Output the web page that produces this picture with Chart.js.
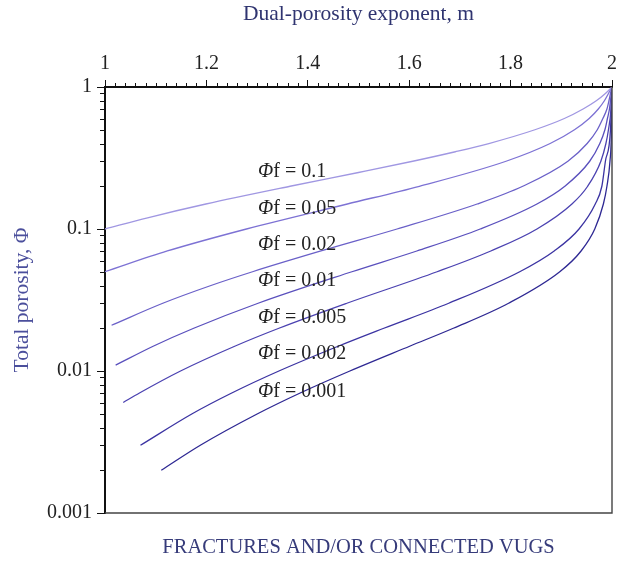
<!DOCTYPE html>
<html>
<head>
<meta charset="utf-8">
<script src="https://cdn.jsdelivr.net/npm/chart.js@4.4.1/dist/chart.umd.min.js"></script>
<style>
  html, body { margin: 0; padding: 0; background: #fff; }
  #wrap { width: 626px; height: 566px; }
</style>
</head>
<body>
<div id="wrap"><canvas id="chart" width="626" height="566"></canvas></div>
<script>
// Dual-porosity chart: total porosity vs exponent m, one curve per fracture porosity

const xTicks = [1, 1.2, 1.4, 1.6, 1.8, 2];
const yTicks = [0.001, 0.01, 0.1, 1];

const fracLabels = ['0.1', '0.05', '0.02', '0.01', '0.005', '0.002', '0.001'];
const labelY = [0.252, 0.138, 0.077, 0.043, 0.0236, 0.0132, 0.0071];

// total porosity (phi) and exponent (m) per curve
const phi_01 = [0.1, 0.12, 0.15, 0.2, 0.25, 0.3, 0.35, 0.4, 0.5, 0.6, 0.7, 0.8, 0.9, 1];
const m_01 = [1, 1.084, 1.199, 1.365, 1.5, 1.607, 1.691, 1.757, 1.848, 1.906, 1.943, 1.969, 1.987, 2];

const phi_005 = [0.05, 0.07, 0.1, 0.15, 0.2, 0.3, 0.4, 0.5, 0.6, 0.7, 0.8, 0.9, 1];
const m_005 = [1, 1.123, 1.279, 1.478, 1.620, 1.791, 1.878, 1.926, 1.955, 1.973, 1.985, 1.993, 2];

const phi_002 = [0.021, 0.03, 0.04, 0.05, 0.07, 0.1, 0.15, 0.2, 0.3, 0.4, 0.5, 0.6, 0.7, 0.8, 0.9, 1];
const m_002 = [1.013, 1.114, 1.209, 1.291, 1.426, 1.576, 1.734, 1.824, 1.913, 1.951, 1.971, 1.982, 1.990, 1.994, 1.997, 2];

const phi_001 = [0.011, 0.015, 0.02, 0.03, 0.05, 0.07, 0.1, 0.15, 0.2, 0.3, 0.4, 0.5, 0.6, 0.7, 0.8, 1];
const m_001 = [1.021, 1.096, 1.175, 1.302, 1.487, 1.615, 1.740, 1.852, 1.907, 1.956, 1.976, 1.986, 1.991, 1.995, 1.997, 2];

const phi_0005 = [0.006, 0.007, 0.01, 0.015, 0.02, 0.03, 0.05, 0.07, 0.1, 0.15, 0.2, 0.3, 0.4, 0.5, 0.7, 1];
const m_0005 = [1.036, 1.068, 1.149, 1.257, 1.343, 1.477, 1.655, 1.761, 1.852, 1.921, 1.952, 1.978, 1.988, 1.993, 1.998, 2];

const phi_0002 = [0.003, 0.005, 0.007, 0.01, 0.015, 0.02, 0.03, 0.05, 0.07, 0.1, 0.15, 0.2, 0.3, 0.5, 1];
const m_0002 = [1.070, 1.172, 1.250, 1.343, 1.461, 1.550, 1.678, 1.818, 1.886, 1.935, 1.967, 1.980, 1.987, 1.997, 2];

const phi_0001 = [0.002, 0.003, 0.005, 0.007, 0.01, 0.015, 0.02, 0.03, 0.05, 0.07, 0.1, 0.15, 0.2, 0.3, 0.5, 1];
const m_0001 = [1.111, 1.188, 1.301, 1.385, 1.483, 1.602, 1.687, 1.796, 1.897, 1.939, 1.966, 1.983, 1.990, 1.996, 1.999, 2];

const curves = [
    [m_01, phi_01], [m_005, phi_005], [m_002, phi_002], [m_001, phi_001],
    [m_0005, phi_0005], [m_0002, phi_0002], [m_0001, phi_0001]
];
const colors = ['#a097e2', '#7d72d4', '#6a60c8', '#5a50bd', '#4b42b1', '#3b33a2', '#2e2893'];

const FONT = "'Liberation Serif', 'DejaVu Serif', serif";

const datasets = curves.map((c, i) => ({
    label: fracLabels[i],
    data: c[0].map((m, j) => ({ x: m, y: c[1][j] })),
    borderColor: colors[i],
    borderWidth: 1.3,
    pointRadius: 0,
    fill: false,
    cubicInterpolationMode: 'monotone'
}));

// minor ticks, frame and text labels
const extras = {
    id: 'extras',
    afterDraw(chart) {
        const { ctx, chartArea: a, scales: { x, y } } = chart;
        ctx.save();
        // frame (right + bottom)
        ctx.strokeStyle = '#444';
        ctx.lineWidth = 1.4;
        ctx.beginPath();
        ctx.moveTo(a.right, a.top);
        ctx.lineTo(a.right, a.bottom);
        ctx.lineTo(a.left, a.bottom);
        ctx.stroke();

        ctx.strokeStyle = '#111';
        ctx.lineWidth = 1;
        ctx.beginPath();
        for (let k = 1; k < 50; k++) {
            if (k % 10 === 0) continue;
            const px = Math.round(x.getPixelForValue(1 + k * 0.02)) + 0.5;
            ctx.moveTo(px, a.top);
            ctx.lineTo(px, a.top - 4);
        }
        for (let d = 0.001; d < 1; d *= 10) {
            for (let k = 2; k <= 9; k++) {
                const py = Math.round(y.getPixelForValue(d * k)) + 0.5;
                ctx.moveTo(a.left, py);
                ctx.lineTo(a.left - 5, py);
            }
        }
        ctx.stroke();

        // curve labels
        ctx.fillStyle = '#222';
        ctx.textBaseline = 'middle';
        ctx.textAlign = 'left';
        const lx = x.getPixelForValue(1.302);
        fracLabels.forEach((t, i) => {
            const ly = y.getPixelForValue(labelY[i]);
            ctx.font = 'italic 20px ' + FONT;
            ctx.fillText('\u03A6', lx, ly);
            const w = ctx.measureText('\u03A6').width;
            ctx.font = '20px ' + FONT;
            ctx.fillText('f = ' + t, lx + w, ly);
        });

        // bottom caption
        ctx.fillStyle = '#363b7a';
        ctx.textAlign = 'center';
        ctx.font = '20.5px ' + FONT;
        ctx.fillText('FRACTURES AND/OR CONNECTED VUGS', (a.left + a.right) / 2, 548);
        ctx.restore();
    }
};

new Chart(document.getElementById('chart'), {
    type: 'line',
    data: { datasets: datasets },
    options: {
        responsive: false,
        animation: false,
        layout: { padding: { left: 0, right: 14, top: 0, bottom: 53 } },
        plugins: {
            legend: { display: false },
            tooltip: { enabled: false }
        },
        scales: {
            x: {
                type: 'linear',
                position: 'top',
                min: 1,
                max: 2,
                afterBuildTicks: s => { s.ticks = xTicks.map(v => ({ value: v })); },
                afterFit: s => { s.height = 87; },
                ticks: {
                    color: '#222',
                    font: { family: FONT, size: 20 },
                    padding: 4,
                    maxRotation: 0,
                    callback: v => String(+v.toFixed(1))
                },
                grid: { drawOnChartArea: false, drawTicks: true, tickLength: 7, tickColor: '#111' },
                border: { display: true, color: '#111', width: 2 },
                title: {
                    display: true,
                    text: 'Dual-porosity exponent, m',
                    color: '#2f3470',
                    font: { family: FONT, size: 21.5 },
                    padding: { top: 1, bottom: 0 }
                }
            },
            y: {
                type: 'logarithmic',
                min: 0.001,
                max: 1,
                afterBuildTicks: s => { s.ticks = yTicks.map(v => ({ value: v })); },
                afterFit: s => { s.width = 105; },
                ticks: {
                    color: '#222',
                    font: { family: FONT, size: 20 },
                    padding: 5,
                    callback: v => String(v)
                },
                grid: { drawOnChartArea: false, drawTicks: true, tickLength: 8, tickColor: '#111' },
                border: { display: true, color: '#111', width: 2 },
                title: {
                    display: true,
                    text: 'Total porosity, \u03A6',
                    color: '#4b4f9c',
                    font: { family: FONT, size: 21.5 },
                    padding: { top: 9, bottom: 0 }
                }
            }
        }
    },
    plugins: [extras]
});
</script>
</body>
</html>
